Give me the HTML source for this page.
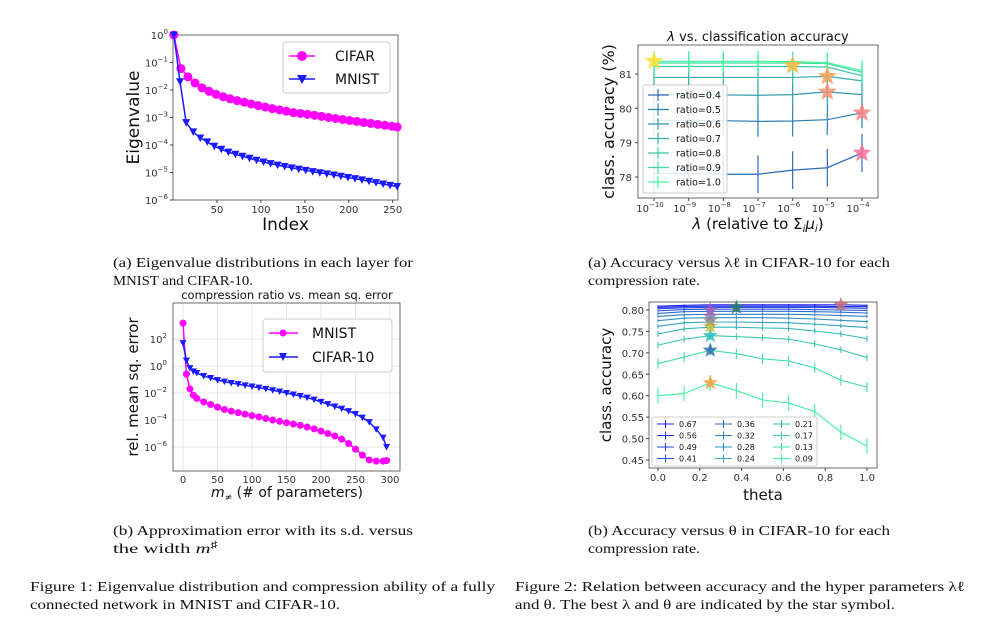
<!DOCTYPE html>
<html><head><meta charset="utf-8"><style>
html,body{margin:0;padding:0;background:#fff;}
svg{display:block;}
.tk{font-family:"DejaVu Sans","Liberation Sans",sans-serif;font-size:10px;fill:#333;}
.lab{font-family:"DejaVu Sans","Liberation Sans",sans-serif;fill:#111;}
.cap{font-family:"Liberation Serif",serif;font-size:14px;fill:#111;}
</style></head><body>
<svg id="fig" width="983" height="626" viewBox="0 0 983 626" xmlns="http://www.w3.org/2000/svg">
<g>
<text class="cap" x="113" y="267" textLength="300" lengthAdjust="spacingAndGlyphs">(a) Eigenvalue distributions in each layer for</text>
<text class="cap" x="113" y="285" textLength="140" lengthAdjust="spacingAndGlyphs">MNIST and CIFAR-10.</text>
<text class="cap" x="113" y="535" textLength="300" lengthAdjust="spacingAndGlyphs">(b) Approximation error with its s.d.  versus</text>
<text class="cap" x="113" y="553" textLength="105" lengthAdjust="spacingAndGlyphs">the width <tspan font-style="italic">m</tspan><tspan dy="-5" font-size="10">♯</tspan></text>
<text class="cap" x="588" y="267" textLength="302" lengthAdjust="spacingAndGlyphs">(a) Accuracy versus λℓ in CIFAR-10 for each</text>
<text class="cap" x="588" y="285" textLength="112" lengthAdjust="spacingAndGlyphs">compression rate.</text>
<text class="cap" x="588" y="535" textLength="302" lengthAdjust="spacingAndGlyphs">(b) Accuracy versus θ in CIFAR-10 for each</text>
<text class="cap" x="588" y="553" textLength="112" lengthAdjust="spacingAndGlyphs">compression rate.</text>
<text class="cap" x="30" y="591" textLength="465" lengthAdjust="spacingAndGlyphs">Figure 1:  Eigenvalue distribution and compression ability of a fully</text>
<text class="cap" x="30" y="609" textLength="310" lengthAdjust="spacingAndGlyphs">connected network in MNIST and CIFAR-10.</text>
<text class="cap" x="515" y="591" textLength="450" lengthAdjust="spacingAndGlyphs">Figure 2: Relation between accuracy and the hyper parameters λℓ</text>
<text class="cap" x="515" y="609" textLength="380" lengthAdjust="spacingAndGlyphs">and θ. The best λ and θ are indicated by the star symbol.</text>
</g>
</svg>
<script>
// ---- Chart 1 data: eigenvalues ----
const eigIdxC = [1,9,17,25,33,41,49,57,65,73,81,89,97,105,113,121,129,137,145,153,161,169,177,185,193,201,209,217,225,233,241,249,255];
const eigCifar = [1,0.06,0.03,0.018,0.012,0.009,0.007,0.0057,0.0048,0.0041,0.0036,0.0031,0.0027,0.0024,0.0021,0.0019,0.0017,0.0015,0.0014,0.0013,0.0012,0.0011,0.001,0.00092,0.00085,0.00078,0.00072,0.00066,0.00061,0.00056,0.00052,0.00048,0.00045];
const eigIdxM = [1,8,15,23,31,39,47,55,63,71,79,87,95,103,111,119,127,135,143,151,159,167,175,183,191,199,207,215,223,231,239,247,255];
const eigMnist = [1,0.02,0.00065,0.0003,0.00018,0.00013,0.00009,0.00007,0.000055,0.000046,0.000039,0.000033,0.000028,0.000024,0.000021,0.0000185,0.0000165,0.0000148,0.0000133,0.000012,0.0000108,0.0000098,0.0000089,0.0000081,0.0000073,0.0000066,0.000006,0.0000054,0.0000048,0.0000043,0.0000038,0.0000034,0.0000031];
const eigXTicks = [50,100,150,200,250];
const eigYTicks = [0,-1,-2,-3,-4,-5,-6];
// ---- Chart 2 data: lambda vs accuracy ----
const lamExp = [-10,-9,-8,-7,-6,-5,-4];
const lamRatios = ["0.4","0.5","0.6","0.7","0.8","0.9","1.0"];
const lamAcc04 = [78.1,78.1,78.08,78.08,78.2,78.27,78.7];
const lamAcc05 = [79.65,79.65,79.64,79.62,79.63,79.67,79.87];
const lamAcc06 = [80.4,80.4,80.39,80.38,80.4,80.48,80.4];
const lamAcc07 = [80.9,80.9,80.9,80.9,80.9,80.93,80.8];
const lamAcc08 = [81.22,81.22,81.22,81.22,81.22,81.2,80.95];
const lamAcc09 = [81.32,81.32,81.32,81.32,81.32,81.3,81.05];
const lamAcc10 = [81.37,81.37,81.37,81.37,81.36,81.33,81.1];
const lamErr = [0.55,0.45,0.35,0.3,0.3,0.3,0.3];
const lamYTicks = [78,79,80,81];
const lamStarX = [-10,-6,-5,-5,-4,-4];
const lamStarY = [81.37,81.25,80.93,80.48,79.87,78.7];
// ---- Chart 3 data: compression ratio vs error ----
const cmpX = [0,5,10,15,20,30,40,50,60,70,80,90,100,110,120,130,140,150,160,170,180,190,200,210,220,230,240,250,260,270,280,290,295];
const cmpMnist = [1500,0.25,0.02,0.007,0.004,0.0022,0.0014,0.0009,0.0006,0.00045,0.00035,0.00027,0.00021,0.00017,0.00013,0.0001,0.00008,0.000063,0.00005,0.00004,0.00003,0.000022,0.000015,0.00001,0.0000065,0.0000038,0.0000018,0.0000007,0.00000025,0.00000011,0.00000009,0.00000009,0.0000001];
const cmpCifar = [50,2.5,0.7,0.4,0.3,0.18,0.13,0.09,0.07,0.055,0.045,0.037,0.03,0.025,0.02,0.016,0.013,0.01,0.0078,0.006,0.0045,0.0032,0.0022,0.0015,0.001,0.0007,0.00045,0.00028,0.00015,0.00007,0.00002,0.000005,0.000001];
const cmpXTicks = [0,50,100,150,200,250,300];
const cmpYTicks = [2,0,-2,-4,-6];
// ---- Chart 4 data: theta vs accuracy ----
const thX = [0,0.125,0.25,0.375,0.5,0.625,0.75,0.875,1];
const thLabels = ["0.67","0.56","0.49","0.41","0.36","0.32","0.28","0.24","0.21","0.17","0.13","0.09"];
const th067 = [0.809,0.811,0.812,0.812,0.812,0.812,0.812,0.812,0.811];
const th056 = [0.806,0.808,0.809,0.809,0.809,0.809,0.809,0.808,0.808];
const th049 = [0.803,0.805,0.806,0.806,0.806,0.806,0.806,0.805,0.804];
const th041 = [0.798,0.801,0.802,0.802,0.802,0.802,0.801,0.8,0.799];
const th036 = [0.792,0.796,0.797,0.797,0.797,0.797,0.796,0.795,0.793];
const th032 = [0.785,0.789,0.79,0.79,0.79,0.79,0.789,0.787,0.785];
const th028 = [0.775,0.781,0.782,0.782,0.782,0.781,0.779,0.776,0.773];
const th024 = [0.762,0.77,0.772,0.772,0.771,0.77,0.767,0.763,0.759];
const th021 = [0.744,0.756,0.76,0.76,0.758,0.757,0.751,0.744,0.733];
const th017 = [0.718,0.732,0.74,0.738,0.735,0.732,0.721,0.707,0.689];
const th013 = [0.675,0.69,0.706,0.698,0.686,0.681,0.665,0.636,0.62];
const th009 = [0.6,0.605,0.63,0.612,0.59,0.583,0.563,0.515,0.482];
const thErr = [0.002,0.002,0.002,0.002,0.003,0.003,0.004,0.005,0.007,0.008,0.012,0.018];
const thYTicks = [0.45,0.5,0.55,0.6,0.65,0.7,0.75,0.8];
const thXTicks = [0,0.2,0.4,0.6,0.8,1.0];
const thStarX = [0.25,0.25,0.25,0.25,0.25,0.25,0.375,0.875,0.25];
const thStarY = [0.63,0.706,0.74,0.762,0.775,0.785,0.806,0.812,0.8];

const NS="http://www.w3.org/2000/svg";
const svg=document.getElementById('fig');
function mk(tag,attrs,parent){const e=document.createElementNS(NS,tag);for(const k in attrs)e.setAttribute(k,attrs[k]);(parent||svg).appendChild(e);return e;}
function txt(s,x,y,cls,extra,parent){const t=mk('text',Object.assign({x:x,y:y,class:cls},extra||{}),parent);t.innerHTML=s;return t;}
function lerpCol(a,b,t){const p=i=>Math.round(parseInt(a.substr(i,2),16)*(1-t)+parseInt(b.substr(i,2),16)*t);return `rgb(${p(1)},${p(3)},${p(5)})`;}
function star(cx,cy,r,fill,parent){let pts=[];for(let i=0;i<10;i++){const a=-Math.PI/2+i*Math.PI/5;const rr=i%2?r*0.42:r;pts.push((cx+rr*Math.cos(a)).toFixed(1)+','+(cy+rr*Math.sin(a)).toFixed(1));}const s=mk('polygon',{points:pts.join(' '),fill:fill,opacity:0.85},parent);return s;}
function sup(base,exp){return base+'<tspan dy="-5" font-size="7">'+exp+'</tspan>';}

// ===== Chart 1 =====
(function(){
 const g=mk('g',{});
 const L=173,R=398,T=35,B=200;
 const x=v=>L+(v-0)*(R-L)/256, y=v=>T+(-Math.log10(v))*(B-T)/6;
 const ax=mk('rect',{x:L,y:T,width:R-L,height:B-T,fill:'none',stroke:'#444','stroke-width':0.8},g);
 eigXTicks.forEach(v=>{mk('line',{x1:x(v),x2:x(v),y1:B,y2:B+3,stroke:'#444'},g);const t=txt(String(v),x(v),B+13,'tk',{'text-anchor':'middle'},g);});
 eigYTicks.forEach(e=>{const yy=T+(-e)*(B-T)/6;mk('line',{x1:L-3,x2:L,y1:yy,y2:yy,stroke:'#444'},g);const t=txt(sup('10',e===0?'0':'−'+(-e)),L-5,yy+4,'tk',{'text-anchor':'end','font-size':'9'},g);});
 const cp=mk('polyline',{points:eigIdxC.map((v,i)=>x(v)+','+y(eigCifar[i])).join(' '),fill:'none',stroke:'#ff00ff','stroke-width':1.5},g);
 eigIdxC.forEach((v,i)=>{const c=mk('circle',{cx:x(v),cy:y(eigCifar[i]),r:4.5,fill:'#ff00ff'},g);});
 const mp=mk('polyline',{points:eigIdxM.map((v,i)=>x(v)+','+y(eigMnist[i])).join(' '),fill:'none',stroke:'#1a1aff','stroke-width':1.5},g);
 eigIdxM.forEach((v,i)=>{const X=x(v),Y=y(eigMnist[i]);const m=mk('polygon',{points:`${X-4},${Y-3.5} ${X+4},${Y-3.5} ${X},${Y+4}`,fill:'#1a1aff'},g);});
 const xl=txt('Index',(L+R)/2,B+30,'lab',{'text-anchor':'middle','font-size':'17'},g);
 const yl=txt('Eigenvalue',0,0,'lab',{'text-anchor':'middle','font-size':'17',transform:`translate(139,${(T+B)/2}) rotate(-90)`},g);
 const lg=mk('g',{},g);
 mk('rect',{x:283,y:42,width:107,height:51,fill:'#fff',stroke:'#ccc',rx:3},lg);
 mk('line',{x1:289,x2:315,y1:56,y2:56,stroke:'#ff00ff','stroke-width':1.5},lg);mk('circle',{cx:302,cy:56,r:5,fill:'#ff00ff'},lg);
 txt('CIFAR',335,61,'lab',{'font-size':'14'},lg);
 mk('line',{x1:289,x2:315,y1:79,y2:79,stroke:'#1a1aff','stroke-width':1.5},lg);mk('polygon',{points:'297,75 307,75 302,84',fill:'#1a1aff'},lg);
 txt('MNIST',335,84,'lab',{'font-size':'14'},lg);
})();

// ===== Chart 2 =====
(function(){
 const g=mk('g',{});
 const L=638,R=878,T=45,B=198;
 const x=e=>654+(e+10)*(862-654)/6, y=v=>74+(81-v)*(177-74)/3;
 const ax=mk('rect',{x:L,y:T,width:R-L,height:B-T,fill:'none',stroke:'#444','stroke-width':0.8},g);
 lamExp.forEach(e=>{mk('line',{x1:x(e),x2:x(e),y1:B,y2:B+3,stroke:'#444'},g);const t=txt(sup('10','−'+(-e)),x(e)-4,B+14,'tk',{'text-anchor':'middle','font-size':'9'},g);});
 lamYTicks.forEach(v=>{mk('line',{x1:L-3,x2:L,y1:y(v),y2:y(v),stroke:'#444'},g);const t=txt(String(v),L-6,y(v)+4,'tk',{'text-anchor':'end'},g);});
 const series=[lamAcc04,lamAcc05,lamAcc06,lamAcc07,lamAcc08,lamAcc09,lamAcc10];
 const cols=series.map((s,i)=>lerpCol('#2a6ab8','#40f59a',i/6));
 series.forEach((s,si)=>{
  const sg=mk('g',{},g);
  mk('polyline',{points:lamExp.map((e,i)=>x(e)+','+y(s[i])).join(' '),fill:'none',stroke:cols[si],'stroke-width':1.2},sg);
  lamExp.forEach((e,i)=>{mk('line',{x1:x(e),x2:x(e),y1:y(s[i]+lamErr[si]),y2:y(s[i]-lamErr[si]),stroke:cols[si],'stroke-width':1.2},sg);});
 });
 const sc=['#ffe030','#f4b840','#f4a050','#f79070','#f78080','#f47090'];
 lamStarX.forEach((e,i)=>star(x(e),y(lamStarY[i]),10,sc[i],g));
 const lg=mk('g',{},g);
 mk('rect',{x:643,y:85,width:84,height:108,fill:'#fff','fill-opacity':0.85,stroke:'#ccc',rx:2},lg);
 lamRatios.forEach((r,i)=>{const yy=95+i*14.5;mk('line',{x1:648,x2:669,y1:yy,y2:yy,stroke:cols[i],'stroke-width':1.2},lg);mk('line',{x1:658,x2:658,y1:yy-6,y2:yy+6,stroke:cols[i],'stroke-width':1.2},lg);txt('ratio='+r,676,yy+3.5,'lab',{'font-size':'9.5'},lg);});
 const tt=txt('<tspan font-style="italic">λ</tspan> vs. classification accuracy',758,41,'lab',{'text-anchor':'middle','font-size':'13'},g);
 const xl=txt('<tspan font-style="italic">λ</tspan> (relative to Σ<tspan font-size="10" dy="3" font-style="italic">i</tspan><tspan dy="-3" font-style="italic">μ</tspan><tspan font-size="10" dy="3" font-style="italic">i</tspan><tspan dy="-3">)</tspan>',758,229,'lab',{'text-anchor':'middle','font-size':'15'},g);
 const yl=txt('class. accuracy (%)',0,0,'lab',{'text-anchor':'middle','font-size':'16',transform:`translate(614,${(T+B)/2}) rotate(-90)`},g);
})();

// ===== Chart 3 =====
(function(){
 const g=mk('g',{});
 const L=173,R=400,T=303,B=471;
 const x=v=>183+v*(390-183)/300, ye=e=>339+(2-e)*(447-339)/8, y=v=>ye(Math.log10(v));
 cmpXTicks.forEach(v=>{mk('line',{x1:x(v),x2:x(v),y1:T,y2:B,stroke:'#e2e2e2','stroke-width':0.8},g);});
 cmpYTicks.forEach(e=>{mk('line',{x1:L,x2:R,y1:ye(e),y2:ye(e),stroke:'#e2e2e2','stroke-width':0.8},g);});
 const ax=mk('rect',{x:L,y:T,width:R-L,height:B-T,fill:'none',stroke:'#444','stroke-width':0.8},g);
 cmpXTicks.forEach(v=>{const t=txt(String(v),x(v),B+12,'tk',{'text-anchor':'middle'},g);});
 cmpYTicks.forEach(e=>{const t=txt(sup('10',e<0?'−'+(-e):String(e)),L-6,ye(e)+4,'tk',{'text-anchor':'end','font-size':'9'},g);});
 const mp=mk('polyline',{points:cmpX.map((v,i)=>x(v)+','+y(cmpMnist[i])).join(' '),fill:'none',stroke:'#ff00ff','stroke-width':1.5},g);
 cmpX.forEach((v,i)=>{const c=mk('circle',{cx:x(v),cy:y(cmpMnist[i]),r:3.5,fill:'#ff00ff'},g);});
 const cp=mk('polyline',{points:cmpX.map((v,i)=>x(v)+','+y(cmpCifar[i])).join(' '),fill:'none',stroke:'#1a1aff','stroke-width':1.5},g);
 cmpX.forEach((v,i)=>{const X=x(v),Y=y(cmpCifar[i]);const m=mk('polygon',{points:`${X-3.5},${Y-3} ${X+3.5},${Y-3} ${X},${Y+3.5}`,fill:'#1a1aff'},g);});
 const lg=mk('g',{},g);
 mk('rect',{x:263,y:319,width:129,height:53,fill:'#fff',stroke:'#ccc',rx:3},lg);
 mk('line',{x1:269,x2:298,y1:333,y2:333,stroke:'#ff00ff','stroke-width':1.5},lg);mk('circle',{cx:283,cy:333,r:3.5,fill:'#ff00ff'},lg);
 txt('MNIST',312,338,'lab',{'font-size':'14'},lg);
 mk('line',{x1:269,x2:298,y1:357,y2:357,stroke:'#1a1aff','stroke-width':1.5},lg);mk('polygon',{points:'279,353 287,353 283,361',fill:'#1a1aff'},lg);
 txt('CIFAR-10',312,362,'lab',{'font-size':'14'},lg);
 const tt=txt('compression ratio vs. mean sq. error',287,299,'lab',{'text-anchor':'middle','font-size':'11.5'},g);
 const xl=txt('<tspan font-style="italic">m</tspan><tspan font-size="9" dy="3" font-style="italic">≠</tspan><tspan dy="-3"> (# of parameters)</tspan>',287,497,'lab',{'text-anchor':'middle','font-size':'14'},g);
 const yl=txt('rel. mean sq. error',0,0,'lab',{'text-anchor':'middle','font-size':'15',transform:`translate(138,${(T+B)/2}) rotate(-90)`},g);
})();

// ===== Chart 4 =====
(function(){
 const g=mk('g',{});
 const L=649,R=877,T=302,B=468;
 const x=v=>658+v*(867-658), y=v=>310+(0.8-v)*(460-310)/0.35;
 const ax=mk('rect',{x:L,y:T,width:R-L,height:B-T,fill:'none',stroke:'#444','stroke-width':0.8},g);
 thXTicks.forEach(v=>{mk('line',{x1:x(v),x2:x(v),y1:B,y2:B+3,stroke:'#444'},g);const t=txt(v.toFixed(1),x(v),B+13,'tk',{'text-anchor':'middle'},g);});
 thYTicks.forEach(v=>{mk('line',{x1:L-3,x2:L,y1:y(v),y2:y(v),stroke:'#444'},g);const t=txt(v.toFixed(2),L-5,y(v)+4,'tk',{'text-anchor':'end'},g);});
 const series=[th067,th056,th049,th041,th036,th032,th028,th024,th021,th017,th013,th009];
 const cols=series.map((s,i)=>lerpCol('#2020ee','#40f0a0',i/11));
 series.forEach((s,si)=>{
  const sg=mk('g',{},g);
  mk('polyline',{points:thX.map((v,i)=>x(v)+','+y(s[i])).join(' '),fill:'none',stroke:cols[si],'stroke-width':1.1},sg);
  thX.forEach((v,i)=>{mk('line',{x1:x(v),x2:x(v),y1:y(s[i]+thErr[si]),y2:y(s[i]-thErr[si]),stroke:cols[si],'stroke-width':1.1},sg);});
 });
 const sc=['#f7a040','#2870b0','#30c0c0','#d0c030','#a0a080','#9080b0','#2a8060','#c87070','#a060c0'];
 thStarX.forEach((v,i)=>star(x(v),y(thStarY[i]),8,sc[i],g));
 const lg=mk('g',{},g);
 mk('rect',{x:652,y:417,width:165,height:49,fill:'#fff','fill-opacity':0.9,stroke:'#ccc',rx:2},lg);
 thLabels.forEach((l,i)=>{const c=Math.floor(i/4),r=i%4;const lx=657+c*58,ly=424+r*11.5;mk('line',{x1:lx,x2:lx+17,y1:ly,y2:ly,stroke:cols[i],'stroke-width':1.1},lg);mk('line',{x1:lx+8.5,x2:lx+8.5,y1:ly-4,y2:ly+4,stroke:cols[i],'stroke-width':1.1},lg);txt(l,lx+22,ly+3,'lab',{'font-size':'8'},lg);});
 const xl=txt('theta',(L+R)/2,500,'lab',{'text-anchor':'middle','font-size':'15'},g);
 const yl=txt('class. accuracy',0,0,'lab',{'text-anchor':'middle','font-size':'15',transform:`translate(611,${(T+B)/2}) rotate(-90)`},g);
})();
</script>
</body></html>
